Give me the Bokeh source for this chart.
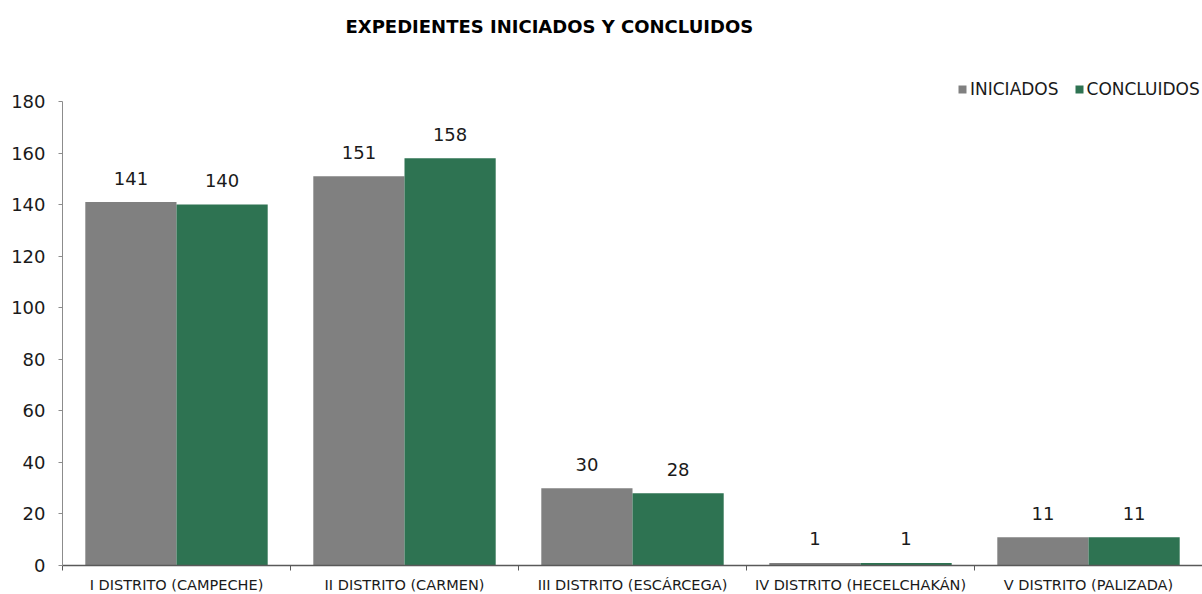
from bokeh.plotting import figure
from bokeh.models import (Range1d, LinearAxis, FixedTicker,
                          ColumnDataSource, Legend, LegendItem, Label)
from bokeh.transform import dodge
from bokeh.core.properties import value
from bokeh.embed import file_html
from bokeh.resources import INLINE

categories = ["I DISTRITO (CAMPECHE)", "II DISTRITO (CARMEN)", "III DISTRITO (ESCÁRCEGA)",
              "IV DISTRITO (HECELCHAKÁN)", "V DISTRITO (PALIZADA)"]
iniciados = [141, 151, 30, 1, 11]
concluidos = [140, 158, 28, 1, 11]
y_ticks = [0, 20, 40, 60, 80, 100, 120, 140, 160, 180]
title_text = "EXPEDIENTES INICIADOS Y CONCLUIDOS"

FONT = "DejaVu Sans"
GRAY = "#808080"
GREEN = "#2E7352"

# layout (pixels): axis 0..180 spans 464 px; frame extends 101 px above it
Y_MAX = 180
AXIS_PX = 464
TOP_PX = 101
FRAME_W = 1140
y_end = Y_MAX + TOP_PX * Y_MAX / AXIS_PX

n = len(categories)
centers = [i + 0.5 for i in range(n)]
src = ColumnDataSource(dict(pos=centers, ini=iniciados, con=concluidos,
                            ini_t=[str(v) for v in iniciados], con_t=[str(v) for v in concluidos]))

p = figure(x_range=Range1d(0, n), y_range=Range1d(0, y_end),
           frame_width=FRAME_W, frame_height=AXIS_PX + TOP_PX,
           min_border_left=62, min_border_right=0, min_border_top=0, min_border_bottom=29,
           x_axis_location=None, y_axis_location="left",
           output_backend="svg", toolbar_location=None, title=None)
p.outline_line_color = None
p.xgrid.visible = False
p.ygrid.visible = False

r1 = p.vbar(x=dodge("pos", -0.2), top="ini", width=0.4, source=src,
            fill_color=GRAY, line_color=None)
r2 = p.vbar(x=dodge("pos", 0.2), top="con", width=0.4, source=src,
            fill_color=GREEN, line_color=None)

for col, off in (("ini", -0.2), ("con", 0.2)):
    p.text(x=dodge("pos", off), y=col, text=col + "_t", source=src,
           text_align="center", text_baseline="alphabetic", y_offset=-24,
           text_font=value(FONT), text_font_size="18px", text_color="#1a1a1a")

# y axis
ya = p.yaxis[0]
ya.ticker = FixedTicker(ticks=y_ticks)
ya.bounds = (0, Y_MAX)
ya.axis_line_color = "#8c8c8c"
ya.major_tick_line_color = "#8c8c8c"
ya.major_tick_out = 4
ya.major_tick_in = 0
ya.minor_tick_line_color = None
ya.major_label_standoff = 13
ya.major_label_text_font = FONT
ya.major_label_text_font_size = "18px"
ya.major_label_text_color = "#1a1a1a"

# x axis: separator ticks (no labels)
sep_axis = LinearAxis(ticker=FixedTicker(ticks=list(range(n + 1))),
                      axis_line_color="#595959", axis_line_width=1.5,
                      major_tick_line_color="#595959", major_tick_out=5, major_tick_in=0,
                      minor_tick_line_color=None, major_label_text_font_size="0px",
                      major_label_standoff=0, major_label_text_alpha=0)
p.add_layout(sep_axis, "below")
# x axis: category labels
cat_axis = LinearAxis(ticker=FixedTicker(ticks=centers),
                      major_label_overrides={c: lab for c, lab in zip(centers, categories)},
                      axis_line_color=None, major_tick_line_color=None,
                      minor_tick_line_color=None, major_label_standoff=0,
                      major_label_text_font=FONT, major_label_text_font_size="14.5px",
                      major_label_text_color="#1a1a1a")
p.add_layout(cat_axis, "below")

legend = Legend(items=[LegendItem(label="INICIADOS", renderers=[r1]),
                       LegendItem(label="CONCLUIDOS", renderers=[r2])],
                orientation="horizontal", location=(895, AXIS_PX + TOP_PX - 99),
                label_text_font=FONT, label_text_font_size="17px", label_text_color="#1a1a1a",
                glyph_width=10, glyph_height=10, spacing=15, label_standoff=3,
                label_height=16, padding=0, margin=0,
                border_line_color=None, background_fill_alpha=0)
p.add_layout(legend, "center")

# title, placed inside the (extended) frame above the axis
title = Label(x=283 * n / FRAME_W, y=Y_MAX + (TOP_PX - 26) * Y_MAX / AXIS_PX,
              text=title_text, text_align="left", text_baseline="middle",
              text_font=FONT, text_font_size="18px", text_font_style="bold",
              text_color="#000000")
p.add_layout(title)

open("out.html", "w").write(file_html(p, INLINE))
